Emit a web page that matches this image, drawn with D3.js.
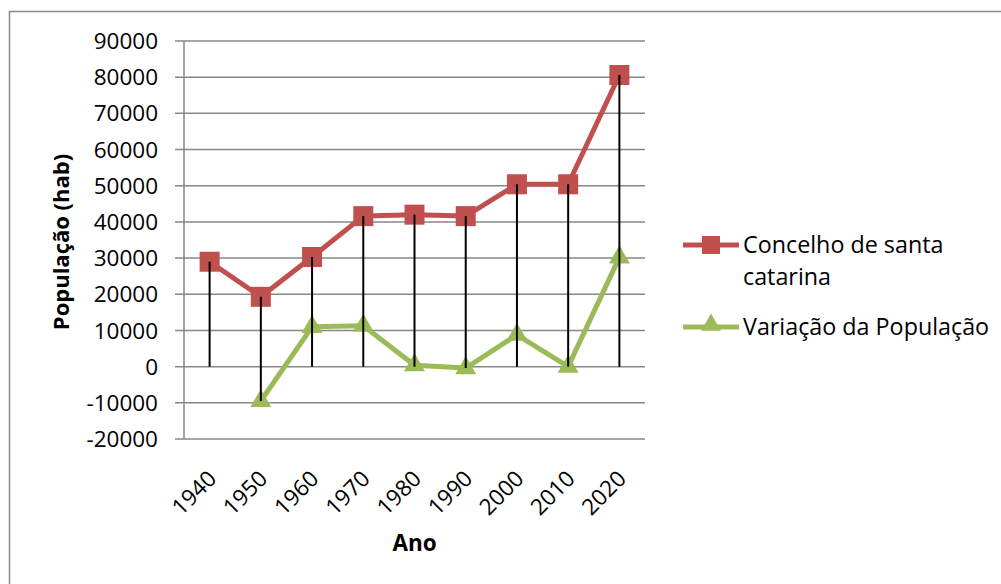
<!DOCTYPE html>
<html><head><meta charset="utf-8">
<script src="https://cdn.jsdelivr.net/npm/d3@7"></script>
<style>
body{margin:0;background:#fff;}
svg{display:block;font-family:"Open Sans",sans-serif;}
</style></head>
<body>
<svg id="chart" width="1001" height="584"></svg>
<script>
const years = ["1940","1950","1960","1970","1980","1990","2000","2010","2020"];
const concelho = [29000, 19300, 30300, 41600, 42000, 41600, 50400, 50400, 80600];
const variacao = [null, -9500, 11000, 11300, 400, -400, 8800, 0, 30200];
const yTicks = [-20000,-10000,0,10000,20000,30000,40000,50000,60000,70000,80000,90000];
const seriesNames = ["Concelho de santa catarina","Variação da População"];

const svg = d3.select("#chart");
const m = {left:184, right:645, top:41, bottom:439};
const x = d3.scaleBand().domain(years).range([m.left, m.right]);
const y = d3.scaleLinear().domain([-20000, 90000]).range([m.bottom, m.top]);

// outer frame
svg.append("rect").attr("x",9.5).attr("y",11.5).attr("width",1100).attr("height",700)
  .attr("fill","none").attr("stroke","#8a8a8a").attr("stroke-width",1.5);

// gridlines + ticks
svg.append("g").selectAll("line").data(yTicks).join("line")
  .attr("x1", m.left-9).attr("x2", m.right)
  .attr("y1", d=>y(d)).attr("y2", d=>y(d))
  .attr("stroke","#878787").attr("stroke-width",1.5);
svg.append("line").attr("x1",m.left).attr("x2",m.left).attr("y1",m.top).attr("y2",m.bottom)
  .attr("stroke","#878787").attr("stroke-width",1.5);

// y tick labels
svg.append("g").selectAll("text").data(yTicks).join("text")
  .attr("x", 158).attr("y", d=>y(d)).attr("dy","0.36em")
  .attr("text-anchor","end").attr("font-size",22.5).attr("fill","#000")
  .text(d=>d);

// x tick labels rotated
svg.append("g").selectAll("text").data(years).join("text")
  .attr("transform", d=>`translate(${x(d)+x.bandwidth()/2-3},${469}) rotate(-45)`)
  .attr("text-anchor","end").attr("dy","0.7em").attr("font-size",22.5).attr("fill","#000")
  .text(d=>d);

// axis titles
svg.append("text").attr("transform","translate(69,242) rotate(-90)")
  .attr("text-anchor","middle").attr("font-size",22).attr("font-weight","bold").attr("fill","#000")
  .text("População (hab)");
svg.append("text").attr("x",(m.left+m.right)/2).attr("y",551)
  .attr("text-anchor","middle").attr("font-size",22.5).attr("font-weight","bold").attr("fill","#000")
  .text("Ano");

const cx = d=>x(d)+x.bandwidth()/2;

// drop lines
const drops = years.map((yr,i)=>{
  const vals=[concelho[i],variacao[i]].filter(v=>v!==null);
  return {yr, hi:Math.max(0,...vals), lo:Math.min(0,...vals)};
});

const red="#C0504D", green="#9BBB59";
const line = d3.line().defined(d=>d.v!==null).x(d=>cx(d.yr)).y(d=>y(d.v));
const redData = years.map((yr,i)=>({yr,v:concelho[i]}));
const greenData = years.map((yr,i)=>({yr,v:variacao[i]}));

svg.append("path").datum(greenData).attr("d",line).attr("fill","none")
  .attr("stroke",green).attr("stroke-width",5).attr("stroke-linejoin","round");
svg.append("path").datum(redData).attr("d",line).attr("fill","none")
  .attr("stroke",red).attr("stroke-width",5).attr("stroke-linejoin","round");

const tri = d3.symbol().type(d3.symbolTriangle).size(190);
svg.append("g").selectAll("path").data(greenData.filter(d=>d.v!==null)).join("path")
  .attr("d",tri).attr("transform",d=>`translate(${cx(d.yr)},${y(d.v)})`).attr("fill",green);
svg.append("g").selectAll("rect").data(redData).join("rect")
  .attr("x",d=>cx(d.yr)-10).attr("y",d=>y(d.v)-10).attr("width",20).attr("height",20).attr("fill",red);

// drop lines drawn over markers
svg.append("g").selectAll("line").data(drops).join("line")
  .attr("x1",d=>cx(d.yr)).attr("x2",d=>cx(d.yr))
  .attr("y1",d=>y(d.hi)).attr("y2",d=>y(d.lo))
  .attr("stroke","#000").attr("stroke-width",2);

// legend
const lg = svg.append("g");
lg.append("line").attr("x1",683).attr("x2",739).attr("y1",245).attr("y2",245).attr("stroke",red).attr("stroke-width",5);
lg.append("rect").attr("x",702).attr("y",236).attr("width",18).attr("height",18).attr("fill",red);
lg.append("text").attr("x",743).attr("y",245).attr("dy","0.36em").attr("font-size",23.3).attr("fill","#000").text("Concelho de santa");
lg.append("text").attr("x",743).attr("y",277).attr("dy","0.36em").attr("font-size",23.3).attr("fill","#000").text("catarina");
lg.append("line").attr("x1",683).attr("x2",739).attr("y1",327).attr("y2",327).attr("stroke",green).attr("stroke-width",5);
lg.append("path").attr("d",d3.symbol().type(d3.symbolTriangle).size(170)).attr("transform","translate(711,325)").attr("fill",green);
lg.append("text").attr("x",743).attr("y",327).attr("dy","0.36em").attr("font-size",23.3).attr("fill","#000").text("Variação da População");
</script>
</body></html>
